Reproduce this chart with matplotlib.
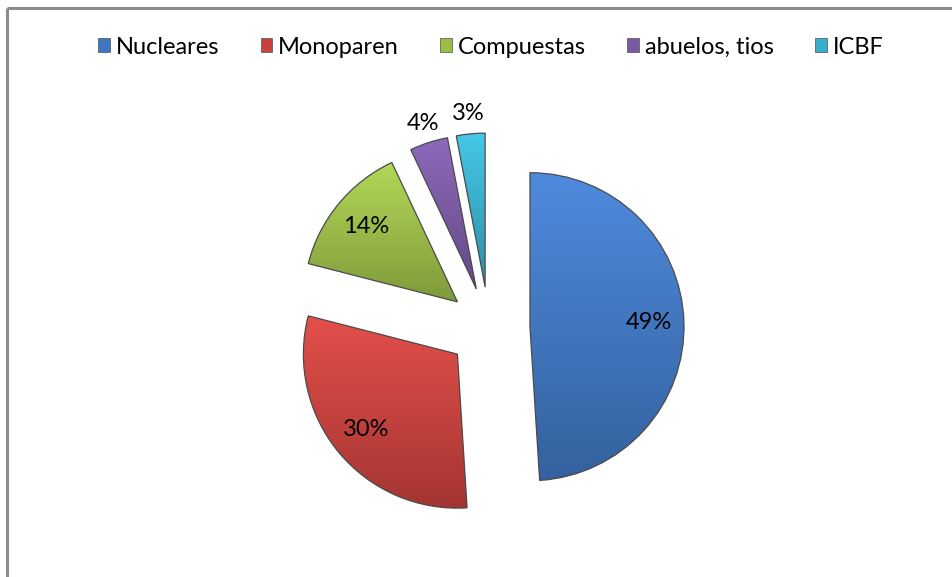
import numpy as np
import matplotlib
matplotlib.use('Agg')
from matplotlib import pyplot as plt
from matplotlib import colors as mcolors
from matplotlib.patches import Patch

# data
labels = ['Nucleares', 'Monoparen', 'Compuestas', 'abuelos, tios', 'ICBF']
values = [49, 30, 14, 4, 3]
colors = ['#4077c2', '#c8413d', '#9bbd48', '#7a59a3', '#38aecb']

plt.rcParams['font.family'] = ['Lato', 'DejaVu Sans']

W, H = 952, 577
fig = plt.figure(figsize=(W / 100, H / 100), dpi=100)
ax = fig.add_axes([0, 0, 1, 1])

# border (only top and left are visible in the reference)
ax.plot([7, W], [H - 8, H - 8], color='#8c8c8c', lw=2.2, solid_capstyle='butt')
ax.plot([7, 7], [0, H - 8], color='#8c8c8c', lw=2.2, solid_capstyle='butt')

r = 154
gap = 41  # explode distance, same for all slices
wedges, _ = ax.pie(values, colors=colors, startangle=90, counterclock=False,
                   explode=[gap] * len(values), radius=r, center=(489, H - 328),
                   frame=True, wedgeprops=dict(linewidth=0.9, edgecolor='#4a4a4a'))
ax.set_xlim(0, W)
ax.set_ylim(0, H)
ax.set_aspect('equal')
ax.axis('off')

# gradient shading inside each slice
for w, c in zip(wedges, colors):
    base = np.array(mcolors.to_rgb(c))
    light = np.clip(base * 1.1 + 0.03, 0, 1)
    dark = base * 0.82
    ext = w.get_path().get_extents()
    t = np.linspace(0, 1, 64)[:, None]
    grad = light * (1 - t[..., None]) + dark * t[..., None]
    grad = np.repeat(grad, 2, axis=1)
    im = ax.imshow(grad, extent=[ext.x0, ext.x1, ext.y0, ext.y1],
                   origin='upper', aspect='auto', zorder=w.get_zorder())
    im.set_clip_path(w)
    w.set_facecolor('none')
    w.set_zorder(w.get_zorder() + 0.5)

# percentage labels
for w, v in zip(wedges, values):
    ang = np.deg2rad((w.theta1 + w.theta2) / 2)
    dist = 0.77 if v >= 10 else 1.13
    x = w.center[0] + dist * r * np.cos(ang)
    y = w.center[1] + dist * r * np.sin(ang)
    ax.text(x, y, '%d%%' % v, ha='center', va='center', fontsize=17, color='black', zorder=10)

ax.set_xlim(0, W)
ax.set_ylim(0, H)

handles = [Patch(facecolor=c, edgecolor='#505050', linewidth=0.5) for c in colors]
fig.legend(handles, labels, loc='center', bbox_to_anchor=(491 / W, 1 - 47 / H), ncol=5,
           frameon=False, fontsize=17, handlelength=0.5, handleheight=0.5,
           handletextpad=0.25, columnspacing=1.75)

fig.savefig('out.png', dpi=100)
